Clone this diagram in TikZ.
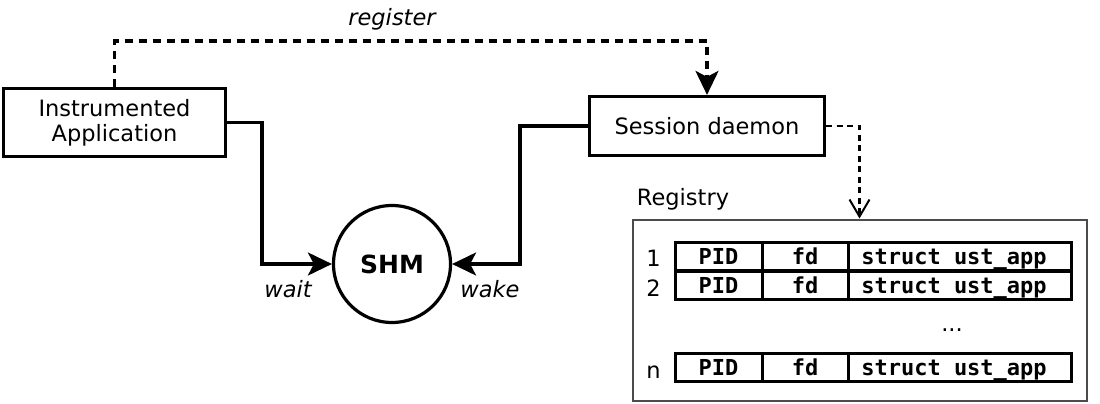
\documentclass[tikz,border=0pt]{standalone}
\usepackage{fontspec}
\setmainfont{DejaVu Sans}
\newfontfamily\monofont{DejaVu Sans Mono}
\usetikzlibrary{arrows.meta}
\begin{document}
\begin{tikzpicture}[x=1pt,y=-1pt,
  txt/.style={font=\fontsize{22.5}{27}\selectfont, inner sep=0pt, anchor=base},
  itxt/.style={font=\fontsize{22.5}{27}\selectfont\itshape, inner sep=0pt, anchor=base},
  box/.style={draw, line width=3.2pt, inner sep=0pt, align=center, font=\fontsize{22.5}{26}\selectfont},
  conn/.style={line width=3.2pt},
  dconn/.style={line width=3.2pt, dash pattern=on 8pt off 6pt},
  dconnb/.style={line width=2.6pt, dash pattern=on 6pt off 4.5pt},
  bigtip/.style={-{Stealth[length=24pt,width=23pt,inset=6pt]}},
  vtip/.style={-{Straight Barb[length=17pt,width=20pt,line width=2pt]}},
  cell/.style={draw, line width=3pt, minimum height=28pt, inner sep=0pt},
  mono/.style={font=\monofont\bfseries\fontsize{22}{26}\selectfont, inner sep=0pt, anchor=base}
]
\useasboundingbox (0,0) rectangle (1100,404);

% main boxes
\node[box, minimum width=222pt, minimum height=68pt] (ia) at (114.5,122.5) {Instrumented\\[-1pt]Application};
\node[box, minimum width=235pt, minimum height=59pt] (sd) at (707,126) {Session daemon};
\node[draw, line width=3.2pt, circle, minimum size=117pt, inner sep=0pt,
      font=\fontsize{25}{28}\selectfont\bfseries] (shm) at (392,264) {SHM};

% registry
\node[draw=black!70, line width=2pt, minimum width=454pt, minimum height=181pt, inner sep=0pt] (reg) at (859.5,310) {};
\node[txt] (regl) at (683,205.5) {Registry};

% connectors
\coordinate (regtop) at (400,41);
\draw[dconn, bigtip] (ia.north) |- (regtop) -| (sd.north);
\node[itxt] (lreg) at (392,25.5) {register};

\coordinate (wc) at (262,264);
\draw[conn, bigtip] (ia.east) -| (wc) -- (shm.west);
\node[itxt] (lwait) at (288,297.5) {wait};

\coordinate (kc) at (520,264);
\draw[conn, bigtip] (sd.west) -| (kc) -- (shm.east);
\node[itxt] (lwake) at (490,297.5) {wake};

\draw[dconnb, vtip] (sd.east) -| (reg.north);

% table rows
\foreach \r/\y/\lab in {1/256/1, 2/285.5/2, 3/367.5/n} {
  \node[cell, minimum width=87pt] (pid\r) at (718.5,\y) {};
  \node[cell, minimum width=86pt] (fd\r) at (805,\y) {};
  \node[cell, minimum width=223pt] (st\r) at (959.5,\y) {};
  \node[mono] (tpid\r) at (718.5,\y+8) {PID};
  \node[mono] (tfd\r) at (805,\y+8) {fd};
  \node[mono] (tst\r) at (954,\y+8) {struct ust\_app};
  \node[txt] (num\r) at (653.5,\y+10.5) {\lab};
}
\node[txt] (dots) at (952,331) {...};
\end{tikzpicture}
\end{document}
